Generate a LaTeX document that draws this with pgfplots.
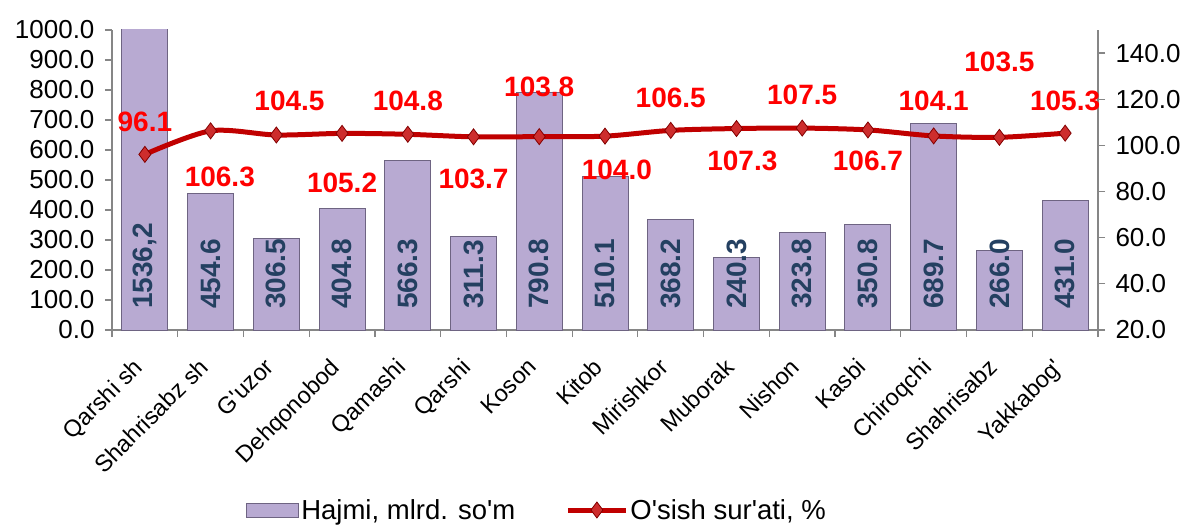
\documentclass[border=0pt]{standalone}
\usepackage{fontspec}
\setmainfont{Liberation Sans}[Ligatures=TeXOff]
\usepackage{pgfplots}
\usepackage{pgfplotstable}
\pgfplotsset{compat=1.18}
\definecolor{axisgray}{RGB}{134,134,134}
\definecolor{barfill}{RGB}{184,170,210}
\definecolor{baredge}{RGB}{110,100,130}
\definecolor{labelnavy}{RGB}{36,64,97}
\definecolor{linered}{RGB}{192,0,0}
\definecolor{markfill}{RGB}{205,45,45}
\definecolor{markedge}{RGB}{130,0,0}
\definecolor{labelred}{RGB}{255,0,0}
\pgfplotsset{
  linelegend/.style={legend image code/.code={\draw[mark repeat=2, mark phase=2, ##1] plot coordinates {(0pt,0pt) (29pt,0pt) (58pt,0pt)};}},
  barlegend/.style={legend image code/.code={\draw[fill=barfill, draw=baredge, line width=1pt] (0pt,-7pt) rectangle (52pt,7pt);}},
}

\pgfplotstableread{
x vol lab
0 1536.2 1536,2
1 454.6 454.6
2 306.5 306.5
3 404.8 404.8
4 566.3 566.3
5 311.3 311.3
6 790.8 790.8
7 510.1 510.1
8 368.2 368.2
9 240.3 240.3
10 323.8 323.8
11 350.8 350.8
12 689.7 689.7
13 266.0 266.0
14 431.0 431.0
}\voltable

\pgfplotstableread{
x g
0 96.1
1 106.3
2 104.5
3 105.2
4 104.8
5 103.7
6 103.8
7 104.0
8 106.5
9 107.3
10 107.5
11 106.7
12 104.1
13 103.5
14 105.3
}\growtable

\pgfplotstableread{
x y lab
0 110.2 96.1
1.14 86.2 106.3
2.2 119.2 104.5
3 83.6 105.2
4 119.2 104.8
5 85.3 103.7
6 125.2 103.8
7.18 89.2 104.0
8 120.5 106.5
9.09 93.5 107.3
10 121.8 107.5
11 93.5 106.7
12 119.2 104.1
13 136 103.5
14 119.2 105.3
}\growlabels

\begin{document}
\begin{tikzpicture}
\path[use as bounding box] (-112pt,-195pt) rectangle (1080pt,330pt);
\begin{axis}[
  at={(0,0)}, anchor=south west,
  scale only axis, width=986pt, height=300pt,
  xmin=-0.5, xmax=14.5, ymin=0, ymax=1000,
  ytick={0,100,...,1000},
  axis x line*=bottom, axis y line*=left,
  axis line style={draw=axisgray, line width=1.2pt},
  tick style={draw=axisgray, line width=1.2pt},
  tick align=outside, major tick length=7pt,
  xtick={-0.5,0.5,...,14.5}, xticklabels={},
  extra x ticks={0,...,14},
  extra x tick labels={{Qarshi sh},{Shahrisabz sh},{G'uzor},{Dehqonobod},{Qamashi},{Qarshi},{Koson},{Kitob},{Mirishkor},{Muborak},{Nishon},{Kasbi},{Chiroqchi},{Shahrisabz},{Yakkabog'}},
  extra x tick style={major tick length=0pt, tick label style={xshift=-13pt, yshift=-22pt, rotate=45, anchor=north east, font=\fontsize{23.5}{25}\selectfont}},
  yticklabel shift=7pt,
  yticklabel style={font=\fontsize{26}{28}\selectfont, /pgf/number format/fixed, /pgf/number format/fixed zerofill, /pgf/number format/precision=1, /pgf/number format/1000 sep={}},
  /pgf/number format/assume math mode=true,
]
\addplot[ybar, bar width=46pt, fill=barfill, draw=baredge, line width=1pt] table[x=x, y=vol] {\voltable};
\addplot[draw=none, mark=none, nodes near coords, point meta=explicit symbolic,
  nodes near coords style={rotate=90, anchor=west, inner sep=0pt, font=\bfseries\fontsize{28}{30}\selectfont, text=labelnavy}]
  table[x=x, y expr=70, meta=lab] {\voltable};
\end{axis}
\begin{axis}[
  at={(0,0)}, anchor=south west,
  scale only axis, width=986pt, height=300pt,
  xmin=-0.5, xmax=14.5, ymin=20, ymax=150,
  ytick={20,40,...,140},
  axis x line=none, axis y line*=right,
  axis line style={draw=axisgray, line width=1.2pt},
  tick style={draw=axisgray, line width=1.2pt},
  tick align=outside, major tick length=7pt,
  clip=false,
  yticklabel shift=7pt,
  yticklabel style={font=\fontsize{26}{28}\selectfont, /pgf/number format/fixed, /pgf/number format/fixed zerofill, /pgf/number format/precision=1},
  /pgf/number format/assume math mode=true,
  legend style={at={(0.133,-0.6)}, anchor=west, draw=none, fill=none, legend columns=-1,
    font=\fontsize{27.5}{29}\selectfont, /tikz/every even column/.append style={column sep=48pt}},
]
\addlegendimage{barlegend}
\addlegendentry{Hajmi, mlrd. so'm}
\addplot[smooth, color=linered, line width=5pt, mark=diamond*, mark size=8pt,
  mark options={fill=markfill, draw=markedge, line width=0.8pt}, linelegend]
  table[x=x, y=g] {\growtable};
\addlegendentry{O'sish sur'ati, \%}
\addplot[draw=none, mark=none, forget plot, nodes near coords, point meta=explicit symbolic,
  nodes near coords style={anchor=center, inner sep=0pt, font=\bfseries\fontsize{28}{30}\selectfont, text=labelred}]
  table[x=x, y=y, meta=lab] {\growlabels};
\end{axis}
\end{tikzpicture}
\end{document}
